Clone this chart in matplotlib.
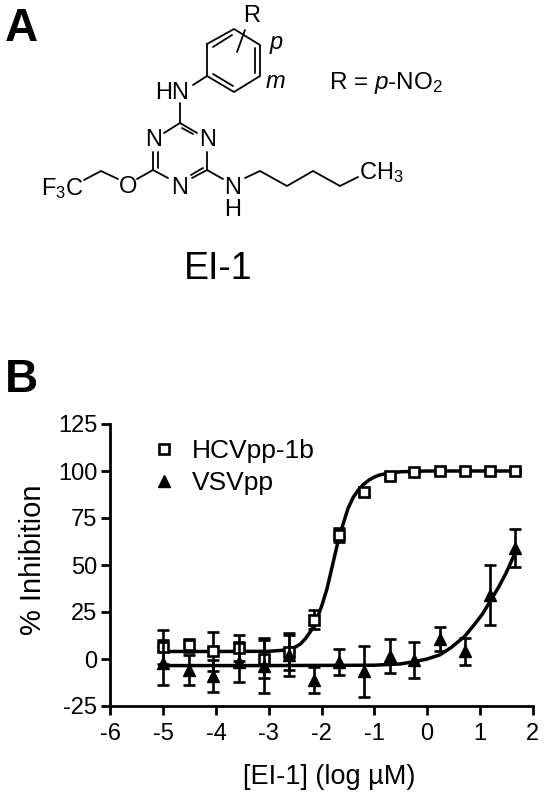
import matplotlib
matplotlib.use('Agg')
from matplotlib import pyplot as plt

plt.rcParams['font.family'] = ['Liberation Sans', 'DejaVu Sans']
plt.rcParams['mathtext.fontset'] = 'custom'
plt.rcParams['mathtext.rm'] = 'Liberation Sans'
plt.rcParams['mathtext.it'] = 'Liberation Sans:italic'
plt.rcParams['axes.unicode_minus'] = False

# dose response values
log_conc = [-5, -4.52, -4.05, -3.57, -3.09, -2.62, -2.14, -1.66, -1.19, -0.71, -0.24, 0.24, 0.71, 1.19, 1.66]
hcv_mean = [6.5, 7.4, 4, 5.7, 0, 3.9, 21, 66, 89, 97.3, 99.7, 99.8, 99.9, 100, 100]
hcv_err = [9, 3.5, 10.5, 7, 10, 10, 5.3, 3.5, 1.5, 1, 1, 1, 1, 1, 1]
vsv_mean = [-2, -6, -9, -1.5, -3.5, 2, -11, -1.5, -6.5, 1.5, -0.5, 10.7, 4, 34, 59]
vsv_err = [12, 8, 8.5, 10.7, 14.5, 11, 7, 7, 13.5, 9, 9.7, 6.5, 7, 16, 10]

hcv_curve_x = [-5, -4, -3, -2.75, -2.6, -2.5, -2.4, -2.3, -2.2, -2.1, -2, -1.9, -1.8, -1.7, -1.6, -1.5, -1.4, -1.3, -1.2, -1.1, -1, -0.9, -0.7, -0.5, 0, 1.66]
hcv_curve_y = [4, 4, 4.1, 4.6, 5.3, 6.3, 8, 11, 15, 20.5, 28, 37, 49, 61, 71, 80, 86, 90, 93, 95.2, 96.8, 97.9, 99, 99.6, 100, 100]
vsv_curve_x = [-5, -3, -1, -0.5, -0.24, 0, 0.24, 0.45, 0.71, 0.9, 1.05, 1.19, 1.35, 1.5, 1.66]
vsv_curve_y = [-3.5, -3.5, -3.3, -2.6, -1.4, 0, 2.2, 6, 12, 18.5, 24, 30.5, 38, 46, 56]

x_ticks = [-6, -5, -4, -3, -2, -1, 0, 1, 2]
y_ticks = [-25, 0, 25, 50, 75, 100, 125]

# molecule drawing, in image pixels
bonds = [
    [(207, 44), (234, 29), (260, 45), (260, 76), (234, 92), (207, 76), (207, 44)],
    [(213, 47), (232, 35)], [(255, 48), (255, 73)], [(213, 74), (233, 86)],
    [(245, 30), (237, 52)], [(207, 76), (193, 85)], [(180, 103), (180, 123)],
    [(180, 123), (197, 133)], [(180, 123), (164, 133)], [(182, 128), (193, 134)],
    [(207, 152), (207, 170)], [(207, 170), (192, 178)], [(203, 168), (191, 175)],
    [(153, 152), (153, 170)], [(158, 152), (158, 168)], [(153, 170), (168, 178)],
    [(153, 170), (137, 179)], [(118, 179), (101, 171), (84, 180)],
    [(207, 170), (223, 179)], [(245, 178), (260, 171), (287, 186), (313, 171), (340, 186), (358, 177)],
]
labels = [
    ('R', 252, 16, 17, 'normal'), ('N', 154, 140, 17, 'normal'), ('N', 208, 140, 17, 'normal'),
    ('N', 180, 188, 17, 'normal'), ('O', 128, 187, 17, 'normal'), ('N', 233, 188, 17, 'normal'),
    ('H', 233, 210, 17, 'normal'), ('HN', 172, 93, 17, 'normal'),
    ('p', 276, 42, 17, 'italic'), ('m', 275, 81, 17, 'italic'),
]

fig = plt.figure(figsize=(5.44, 8.0), dpi=100)

ax = fig.add_axes([110.4 / 544, (800 - 706) / 800, (532.7 - 110.4) / 544, (706 - 424) / 800])
ax.plot(hcv_curve_x, hcv_curve_y, color='black', lw=2.5, zorder=2)
ax.plot(vsv_curve_x, vsv_curve_y, color='black', lw=2.5, zorder=2)
ax.errorbar(log_conc, hcv_mean, yerr=hcv_err, fmt='s', mfc='white', mec='black', mew=1.9, ms=6.5,
            ecolor='black', elinewidth=1.9, capsize=4.6, capthick=1.9, zorder=3, clip_on=False, label='HCVpp-1b')
ax.errorbar(log_conc, vsv_mean, yerr=vsv_err, fmt='^', color='black', ms=8,
            ecolor='black', elinewidth=1.9, capsize=4.6, capthick=1.9, zorder=4, clip_on=False, label='VSVpp')

ax.set_xlim(-6, 2)
ax.set_ylim(-25, 125)
ax.set_xticks(x_ticks)
ax.set_yticks(y_ticks)
ax.tick_params(axis='x', width=2, length=6.5, labelsize=17, pad=6)
ax.tick_params(axis='y', width=2, length=6.5, labelsize=17, pad=3)
ax.spines['top'].set_visible(False)
ax.spines['right'].set_visible(False)
ax.spines['left'].set_linewidth(2)
ax.spines['bottom'].set_linewidth(2)
ax.set_xlabel('[EI-1] (log µM)', fontsize=19.5)
ax.set_ylabel('% Inhibition', fontsize=21)
ax.xaxis.set_label_coords(0.519, -0.207)
ax.yaxis.set_label_coords(-0.15, 0.518)

handles, names = ax.get_legend_handles_labels()
ax.legend([h[0] for h in handles], names, loc='upper left', bbox_to_anchor=(0.095, 0.947), frameon=False,
          fontsize=19, handletextpad=0.55, labelspacing=0.3, handlelength=1.0, borderpad=0, borderaxespad=0)

# overlay for the structure and panel letters
over = fig.add_axes([0, 0, 1, 1], zorder=5)
over.set_xlim(0, 544)
over.set_ylim(800, 0)
over.axis('off')
for bond in bonds:
    over.plot([p[0] for p in bond], [p[1] for p in bond], color='black', lw=1.3, solid_capstyle='round')
for text, x, y, size, style in labels:
    over.text(x, y, text, fontsize=size, style=style, ha='center', va='center')
over.text(41, 189, 'F$_3$C', fontsize=17, ha='left', va='center')
over.text(359, 173, 'CH$_3$', fontsize=17, ha='left', va='center')
over.text(329, 83, 'R = $\\mathit{p}$-NO$_2$', fontsize=17.5, ha='left', va='center')
over.text(218, 269, 'EI-1', fontsize=27, ha='center', va='center')
over.text(5, 29, 'A', fontsize=33, fontweight='bold', ha='left', va='center')
over.text(5, 380, 'B', fontsize=33, fontweight='bold', ha='left', va='center')

fig.savefig('out.png', dpi=100)
